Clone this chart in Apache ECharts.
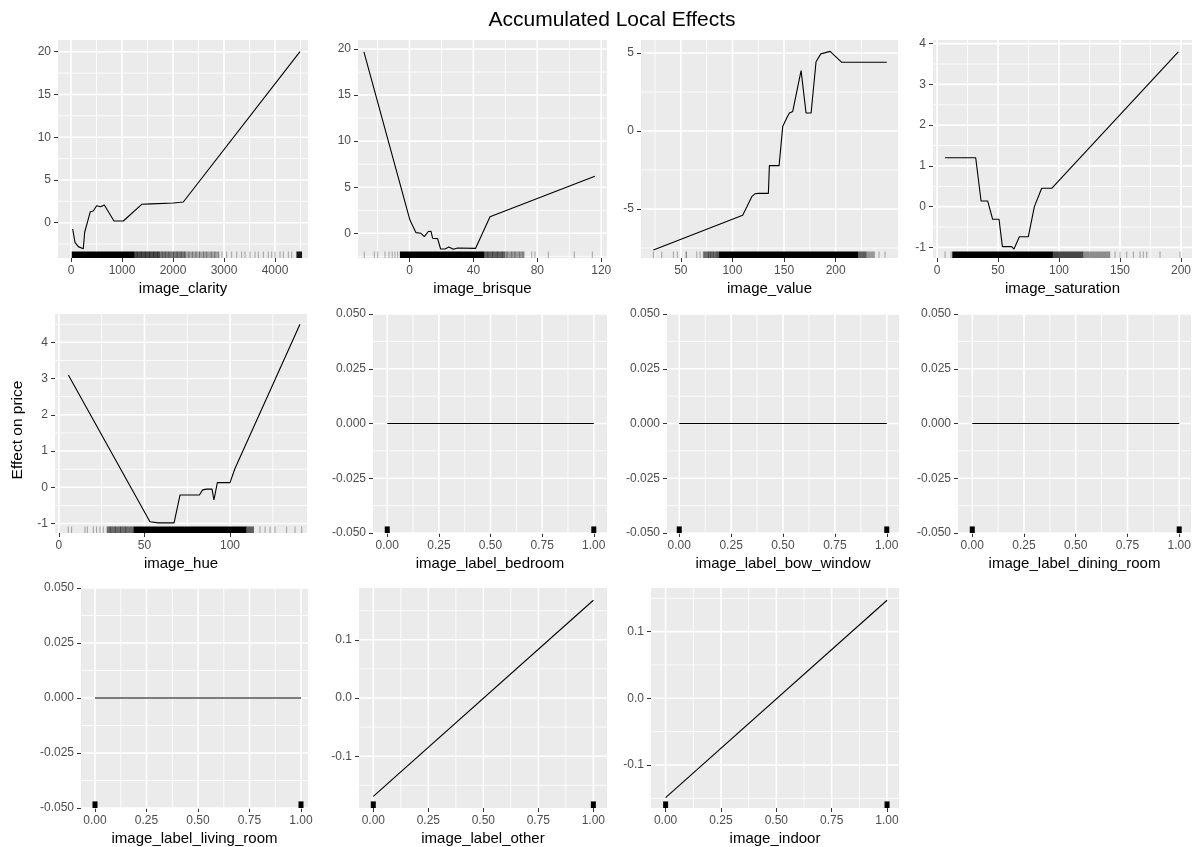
<!DOCTYPE html>
<html>
<head>
<meta charset="utf-8">
<title>Accumulated Local Effects</title>
<script src="https://cdn.jsdelivr.net/npm/echarts@6/dist/echarts.min.js"></script>
<style>
  html, body { margin: 0; padding: 0; background: #ffffff; }
  #chart { width: 1196px; height: 847px; }
</style>
</head>
<body>
<div id="chart"></div>
<script>
// ---- ALE curves (feature value -> effect on price) ----
const clarityX = [33, 78, 143, 241, 268, 307, 379, 437, 502, 582, 653, 843, 1026, 1386, 1582, 2006, 2202, 4490];
const clarityY = [-0.74, -2.3, -2.8, -3.04, -1.12, -1.05, 1.29, 1.37, 1.99, 1.87, 2.07, 0.2, 0.2, 2.15, 2.2, 2.3, 2.42, 20];

const brisqueX = [-28.5, 0.3, 4.1, 7.2, 9.3, 11.8, 13.5, 14.5, 17.6, 19.5, 22.2, 24.7, 27.4, 30.1, 41.4, 50.4, 116];
const brisqueY = [19.7, 1.44, 0.07, 0, -0.36, 0.2, 0.22, -0.54, -0.58, -1.7, -1.7, -1.49, -1.74, -1.6, -1.63, 1.8, 6.2];

const valueX = [23.4, 109.9, 114, 118.7, 122, 125.1, 134.8, 135.8, 145.2, 148.7, 152.6, 155.2, 158.4, 163.5, 166.5, 171.3, 176.2, 181, 185.6, 194.6, 205.9, 249.5];
const valueY = [-7.63, -5.4, -4.85, -4.21, -4.02, -4.0, -4.0, -2.22, -2.22, 0.28, 0.83, 1.15, 1.25, 2.9, 3.87, 1.15, 1.15, 4.44, 4.94, 5.1, 4.4, 4.4];

const saturationX = [6.6, 31.7, 36.1, 41.5, 45.6, 50.8, 53.6, 61.2, 63.1, 67.5, 74.8, 79.8, 85.8, 94, 197.8];
const saturationY = [1.2, 1.2, 0.14, 0.14, -0.31, -0.31, -0.98, -0.98, -1.04, -0.74, -0.74, 0.0, 0.45, 0.45, 3.8];

const hueX = [5.5, 53.2, 58.1, 67.3, 70.8, 82.1, 84, 86.3, 89.5, 90.6, 92.6, 100, 102.9, 140.9];
const hueY = [3.1, -0.95, -0.98, -0.98, -0.21, -0.21, -0.07, -0.05, -0.05, -0.35, 0.13, 0.13, 0.52, 4.5];

const binaryX = [0, 1];
const bedroomY = [0, 0];
const bowWindowY = [0, 0];
const diningRoomY = [0, 0];
const livingRoomY = [0, 0];
const otherY = [-0.169, 0.168];
const indoorY = [-0.149, 0.147];

// ---- rugs: dense stretches [from, to, opacity] and single observations ----
const clarityRugBands = [[15, 1250, 1], [1250, 1750, 0.7], [1750, 2250, 0.5], [2250, 2900, 0.3], [4420, 4530, 0.9]];
const clarityRugTicks = [1300, 1380, 1460, 1540, 1620, 1700, 1790, 1850, 1920, 2010, 2080, 2160, 2230, 2310, 2380, 2450, 2520, 2600, 2660, 2750, 2820, 2900, 2960, 3052, 3150, 3248, 3346, 3412, 3510, 3608, 3673, 3771, 3869, 3935, 4000, 4098, 4163, 4261, 4327];

const brisqueRugBands = [[-6, 47, 1], [47, 60, 0.6], [60, 72, 0.35]];
const brisqueRugTicks = [-28.3, -22, -19.9, -15.3, -12.8, -10.8, -9.1, -7.4, 49, 52, 55, 58, 61, 64, 66, 69, 71, 76.5, 78.5, 86.9, 103.1, 114.4];

const valueRugBands = [[72, 87, 0.55], [87, 222, 1], [222, 230, 0.6], [230, 238, 0.35]];
const valueRugTicks = [23.4, 31.5, 42.8, 46.6, 55, 55.5, 65.4, 68.6, 71.8, 76.7, 79, 81.5, 84.8, 86, 242, 247.8];

const saturationRugBands = [[12.5, 95, 1], [95, 120, 0.7], [120, 142, 0.4]];
const saturationRugTicks = [6.6, 11.5, 145.9, 150, 155.5, 161, 166.4, 169.1, 171.9, 182.8, 199.2];

const hueRugBands = [[27.9, 43.5, 0.55], [43.5, 109.7, 1], [109.7, 114, 0.6]];
const hueRugTicks = [5.45, 7.4, 15.2, 16.6, 20.1, 22, 24, 25.9, 30, 33, 36, 39, 117.5, 120.5, 123.4, 126.3, 133.1, 138, 141.9];

const binaryRugTicks = [0, 1];

// ---- tick values ----
const clarityXTicks = [0, 1000, 2000, 3000, 4000];
const clarityYTicks = [0, 5, 10, 15, 20];
const brisqueXTicks = [0, 40, 80, 120];
const brisqueYTicks = [0, 5, 10, 15, 20];
const valueXTicks = [50, 100, 150, 200];
const valueYTicks = [-5, 0, 5];
const saturationXTicks = [0, 50, 100, 150, 200];
const saturationYTicks = [-1, 0, 1, 2, 3, 4];
const hueXTicks = [0, 50, 100];
const hueYTicks = [-1, 0, 1, 2, 3, 4];
const binaryXTicks = [0, 0.25, 0.5, 0.75, 1];
const flatYTicks = [-0.05, -0.025, 0, 0.025, 0.05];
const otherYTicks = [-0.1, 0, 0.1];
const indoorYTicks = [-0.1, 0, 0.1];

// ---- panels ----
const panels = [
  { name: 'image_clarity',          x: clarityX,    y: clarityY,    xt: clarityXTicks,    yt: clarityYTicks,    bands: clarityRugBands,    ticks: clarityRugTicks,    xd: 0, yd: 0 },
  { name: 'image_brisque',          x: brisqueX,    y: brisqueY,    xt: brisqueXTicks,    yt: brisqueYTicks,    bands: brisqueRugBands,    ticks: brisqueRugTicks,    xd: 0, yd: 0 },
  { name: 'image_value',            x: valueX,      y: valueY,      xt: valueXTicks,      yt: valueYTicks,      bands: valueRugBands,      ticks: valueRugTicks,      xd: 0, yd: 0 },
  { name: 'image_saturation',       x: saturationX, y: saturationY, xt: saturationXTicks, yt: saturationYTicks, bands: saturationRugBands, ticks: saturationRugTicks, xd: 0, yd: 0 },
  { name: 'image_hue',              x: hueX,        y: hueY,        xt: hueXTicks,        yt: hueYTicks,        bands: hueRugBands,        ticks: hueRugTicks,        xd: 0, yd: 0 },
  { name: 'image_label_bedroom',    x: binaryX,     y: bedroomY,    xt: binaryXTicks,     yt: flatYTicks,       bands: [],                 ticks: binaryRugTicks,     xd: 2, yd: 3, binary: true },
  { name: 'image_label_bow_window', x: binaryX,     y: bowWindowY,  xt: binaryXTicks,     yt: flatYTicks,       bands: [],                 ticks: binaryRugTicks,     xd: 2, yd: 3, binary: true },
  { name: 'image_label_dining_room',x: binaryX,     y: diningRoomY, xt: binaryXTicks,     yt: flatYTicks,       bands: [],                 ticks: binaryRugTicks,     xd: 2, yd: 3, binary: true },
  { name: 'image_label_living_room',x: binaryX,     y: livingRoomY, xt: binaryXTicks,     yt: flatYTicks,       bands: [],                 ticks: binaryRugTicks,     xd: 2, yd: 3, binary: true },
  { name: 'image_label_other',      x: binaryX,     y: otherY,      xt: binaryXTicks,     yt: otherYTicks,      bands: [],                 ticks: binaryRugTicks,     xd: 2, yd: 1, binary: true },
  { name: 'image_indoor',           x: binaryX,     y: indoorY,     xt: binaryXTicks,     yt: indoorYTicks,     bands: [],                 ticks: binaryRugTicks,     xd: 2, yd: 1, binary: true }
];

// panel frames in pixels and the visible range of each axis:
// [left, right, top, bottom, xMin, xMax, yMin, yMax]
const frames = [
  [58, 308, 40, 258, -255, 4647, -4.13, 21.37],
  [358, 607, 40, 258, -32.2, 123.6, -2.68, 20.98],
  [641, 898, 40, 258, 11.4, 260.4, -8.14, 5.83],
  [933, 1192, 40, 258, -3.3, 209, -1.26, 4.09],
  [55, 307, 314, 533, -2.3, 145, -1.26, 4.78],
  [373, 607, 314, 533, -0.069, 1.064, -0.05, 0.05],
  [667, 899, 314, 533, -0.059, 1.059, -0.05, 0.05],
  [958, 1191, 314, 533, -0.069, 1.057, -0.05, 0.05],
  [81, 308, 588, 808, -0.068, 1.034, -0.05, 0.05],
  [359, 607, 588, 808, -0.065, 1.062, -0.189, 0.189],
  [651, 899, 588, 808, -0.066, 1.054, -0.1645, 0.1654]
];

const FONT = '"Liberation Sans", Arial, Helvetica, sans-serif';
const W = 1196, H = 847;

// minor grid positions sit halfway between major ticks (and half a step beyond the ends)
function minorOf(ticks, lo, hi) {
  const out = [];
  const step = ticks[1] - ticks[0];
  const first = ticks[0] - step / 2;
  for (let i = 0; i <= ticks.length; i++) {
    const v = first + i * step;
    if (v > lo && v < hi) out.push(v);
  }
  return out;
}

function fmt(v, d) {
  return Math.abs(v) < 1e-12 ? (0).toFixed(d) : v.toFixed(d);
}

// white panel grid, drawn as one group per panel
function gridGroup(p, frame) {
  const [, , , , x0, x1, y0, y1] = frame;
  const xMinor = minorOf(p.xt, x0, x1), yMinor = minorOf(p.yt, y0, y1);
  return function (params, api) {
    const cs = params.coordSys;
    const children = [];
    const vLine = (v, w) => {
      const px = api.coord([v, y0])[0];
      children.push({ type: 'line', shape: { x1: px, y1: cs.y, x2: px, y2: cs.y + cs.height },
                      style: { stroke: '#ffffff', lineWidth: w } });
    };
    const hLine = (v, w) => {
      const py = api.coord([x0, v])[1];
      children.push({ type: 'line', shape: { x1: cs.x, y1: py, x2: cs.x + cs.width, y2: py },
                      style: { stroke: '#ffffff', lineWidth: w } });
    };
    xMinor.forEach(v => vLine(v, 0.8));
    yMinor.forEach(v => hLine(v, 0.8));
    p.xt.forEach(v => vLine(v, 1.6));
    p.yt.forEach(v => hLine(v, 1.6));
    return { type: 'group', children: children };
  };
}

function rugItem(minWidth) {
  return function (params, api) {
    const cs = params.coordSys;
    const a = api.coord([api.value(0), 0])[0];
    const b = api.coord([api.value(1), 0])[0];
    let x = a, w = b - a;
    if (w < minWidth) { x = (a + b) / 2 - minWidth / 2; w = minWidth; }
    const h = cs.height * 0.03;
    return { type: 'rect', shape: { x: x, y: cs.y + cs.height - h, width: w, height: h },
             style: { fill: '#000000', opacity: api.value(2) } };
  };
}

const grid = [], xAxis = [], yAxis = [], series = [];

panels.forEach((p, i) => {
  const [l, r, t, b, x0, x1, y0, y1] = frames[i];
  grid.push({ left: l, top: t, width: r - l, height: b - t, show: true,
              backgroundColor: '#EBEBEB', borderWidth: 0, containLabel: false, outerBoundsMode: 'none' });

  xAxis.push({
    gridIndex: i, type: 'value', min: x0, max: x1, position: 'bottom',
    axisLine: { show: false, onZero: false },
    axisTick: { show: true, length: 4, customValues: p.xt, lineStyle: { color: '#333333', width: 1 } },
    axisLabel: { customValues: p.xt, formatter: v => fmt(v, p.xd), color: '#4D4D4D',
                 fontSize: 12, fontFamily: FONT, margin: 7 },
    splitLine: { show: false },
    name: p.name, nameLocation: 'middle', nameGap: 23,
    nameTextStyle: { color: '#000000', fontSize: 15, fontFamily: FONT }
  });
  yAxis.push({
    gridIndex: i, type: 'value', min: y0, max: y1, position: 'left',
    axisLine: { show: false, onZero: false },
    axisTick: { show: true, length: 4, customValues: p.yt, lineStyle: { color: '#333333', width: 1 } },
    axisLabel: { customValues: p.yt, formatter: v => fmt(v, p.yd), color: '#4D4D4D',
                 fontSize: 12, fontFamily: FONT, margin: 7 },
    splitLine: { show: false }
  });

  series.push({ type: 'custom', xAxisIndex: i, yAxisIndex: i, silent: true, z: 1,
                renderItem: gridGroup(p, frames[i]), data: [[x0, y0]], animation: false });

  // rug along the bottom of the panel
  const rug = p.bands.map(d => [d[0], d[1], d[2]])
    .concat(p.ticks.map(v => [v, v, p.binary ? 1 : 0.32]));
  series.push({ type: 'custom', xAxisIndex: i, yAxisIndex: i, silent: true, z: 2,
                renderItem: rugItem(p.binary ? 5 : 1), data: rug, animation: false });

  // the effect curve
  series.push({ type: 'line', xAxisIndex: i, yAxisIndex: i, z: 5,
                data: p.x.map((v, k) => [v, p.y[k]]),
                showSymbol: false, symbol: 'none', silent: true, clip: true,
                lineStyle: { color: '#000000', width: 1.1 }, animation: false });
});

const chart = echarts.init(document.getElementById('chart'), null, { renderer: 'canvas', width: W, height: H });
chart.setOption({
  backgroundColor: '#ffffff',
  animation: false,
  grid, xAxis, yAxis, series,
  graphic: [
    { type: 'text', x: 612, y: 20, style: { text: 'Accumulated Local Effects', fill: '#000000',
      font: '21px ' + FONT, textAlign: 'center', textVerticalAlign: 'middle' } },
    { type: 'text', x: 18, y: 430, rotation: Math.PI / 2,
      style: { text: 'Effect on price', fill: '#000000', font: '15.5px ' + FONT,
               textAlign: 'center', textVerticalAlign: 'middle' } }
  ]
});
</script>
</body>
</html>
